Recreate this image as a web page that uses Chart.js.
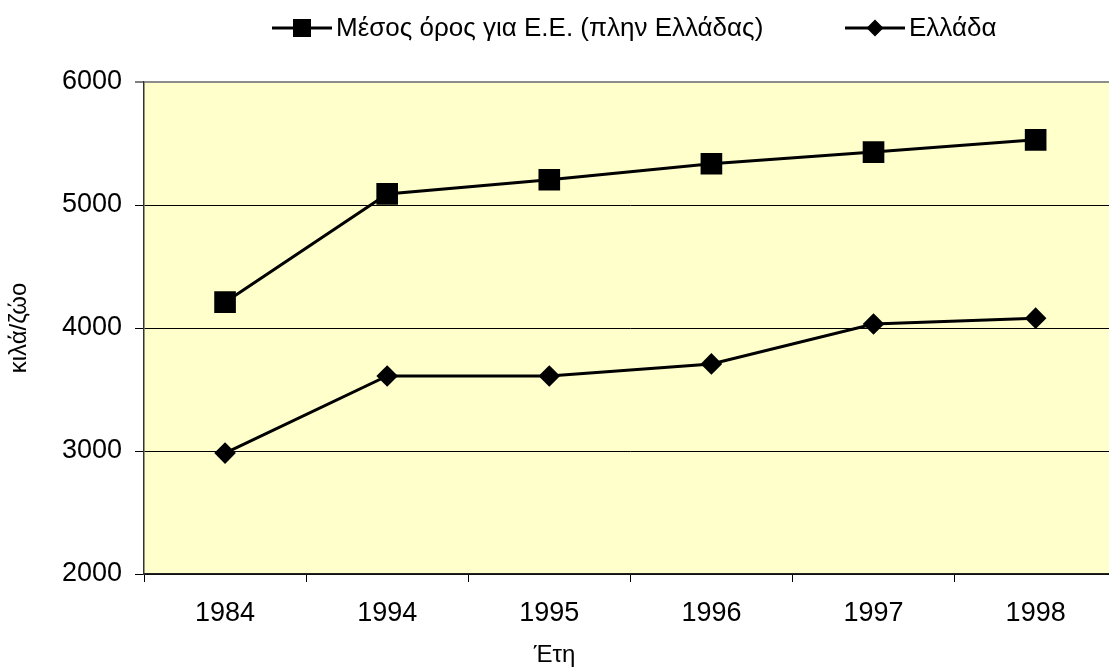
<!DOCTYPE html>
<html>
<head>
<meta charset="utf-8">
<script src="https://cdn.jsdelivr.net/npm/chart.js@4"></script>
<style>
  html, body { margin: 0; padding: 0; background: #fff; overflow: hidden; }
  #c { display: block; }
</style>
</head>
<body>
<canvas id="c" width="1132" height="667" style="width:1132px;height:667px"></canvas>
<script>
const categories = ['1984', '1994', '1995', '1996', '1997', '1998'];
const euAverage = [4210, 5090, 5205, 5335, 5430, 5530];
const greece = [2983, 3610, 3610, 3708, 4032, 4080];
const seriesNames = ['Μέσος όρος για Ε.Ε. (πλην Ελλάδας)', 'Ελλάδα'];
const yTicks = [2000, 3000, 4000, 5000, 6000];
const xTitle = 'Έτη';
const yTitle = 'κιλά/ζώο';

const FONT = '"Liberation Sans", Arial, sans-serif';
const VIEW_W = 1109;

const plotBg = {
  id: 'plotBg',
  beforeDraw(chart) {
    const { ctx, chartArea: a } = chart;
    ctx.save();
    ctx.fillStyle = '#FFFFCC';
    ctx.fillRect(a.left, a.top, a.right - a.left, a.bottom - a.top);
    ctx.restore();
  }
};

const xAxisTitle = {
  id: 'xAxisTitle',
  afterDraw(chart) {
    const ctx = chart.ctx;
    ctx.save();
    ctx.font = '24px ' + FONT;
    ctx.fillStyle = '#000';
    ctx.textAlign = 'center';
    ctx.textBaseline = 'middle';
    ctx.fillText(xTitle, VIEW_W / 2, 655);
    ctx.restore();
  }
};

const lineLegend = {
  id: 'lineLegend',
  afterDraw(chart) {
    const ctx = chart.ctx;
    const y = 28;
    const starts = [272, 845];
    ctx.save();
    ctx.font = '26px ' + FONT;
    ctx.textBaseline = 'middle';
    ctx.textAlign = 'left';
    chart.data.datasets.forEach((ds, i) => {
      const x0 = starts[i];
      ctx.strokeStyle = '#000';
      ctx.lineWidth = 3;
      ctx.beginPath();
      ctx.moveTo(x0, y);
      ctx.lineTo(x0 + 60, y);
      ctx.stroke();
      ctx.fillStyle = '#000';
      const cx = x0 + 30;
      if (ds.pointStyle === 'rect') {
        ctx.fillRect(cx - 9, y - 9, 18, 18);
      } else {
        ctx.beginPath();
        ctx.moveTo(cx - 8.5, y);
        ctx.lineTo(cx, y - 8.5);
        ctx.lineTo(cx + 8.5, y);
        ctx.lineTo(cx, y + 8.5);
        ctx.closePath();
        ctx.fill();
      }
      ctx.fillText(ds.label, x0 + 64, y + 1);
    });
    ctx.restore();
  }
};

new Chart(document.getElementById('c'), {
  type: 'line',
  data: {
    labels: categories,
    datasets: [
      {
        label: seriesNames[0],
        data: euAverage,
        borderColor: '#000',
        borderWidth: 3,
        pointStyle: 'rect',
        pointRadius: 15.3,
        pointBackgroundColor: '#000',
        pointBorderWidth: 0,
        tension: 0
      },
      {
        label: seriesNames[1],
        data: greece,
        borderColor: '#000',
        borderWidth: 3,
        pointStyle: 'rectRot',
        pointRadius: 10.8,
        pointBackgroundColor: '#000',
        pointBorderWidth: 0,
        tension: 0
      }
    ]
  },
  options: {
    responsive: false,
    maintainAspectRatio: false,
    devicePixelRatio: 1,
    animation: false,
    events: [],
    layout: { padding: { top: 82, right: 1, left: 0, bottom: 0 } },
    plugins: {
      legend: { display: false },
      tooltip: { enabled: false }
    },
    scales: {
      x: {
        type: 'category',
        offset: true,
        grid: {
          offset: true,
          drawOnChartArea: false,
          drawTicks: true,
          tickLength: 8,
          tickColor: '#000',
          tickWidth: 1
        },
        border: { display: true, color: '#222', width: 1.5 },
        ticks: {
          color: '#000',
          font: { family: FONT, size: 27 },
          padding: 15,
          maxRotation: 0,
          autoSkip: false
        },
        title: { display: false },
        afterFit(scale) { scale.height = 93; }
      },
      y: {
        min: 2000,
        max: 6000,
        afterBuildTicks(scale) { scale.ticks = yTicks.map(v => ({ value: v })); },
        grid: {
          color: ctx => (ctx.tick && ctx.tick.value === 6000) ? '#8c8c8c' : '#000',
          lineWidth: ctx => (ctx.tick && ctx.tick.value === 6000) ? 2 : 1,
          drawTicks: true,
          tickLength: 9,
          tickColor: '#000',
          tickWidth: 1
        },
        border: { display: true, color: '#333', width: 1.5 },
        ticks: {
          color: '#000',
          font: { family: FONT, size: 27 },
          padding: 13,
          callback: v => String(v)
        },
        title: {
          display: true,
          text: yTitle,
          color: '#000',
          font: { family: FONT, size: 24, lineHeight: 1 },
          padding: { top: 7, bottom: 0 }
        },
        afterFit(scale) { scale.width = 144; }
      }
    }
  },
  plugins: [plotBg, lineLegend, xAxisTitle]
});
</script>
</body>
</html>
